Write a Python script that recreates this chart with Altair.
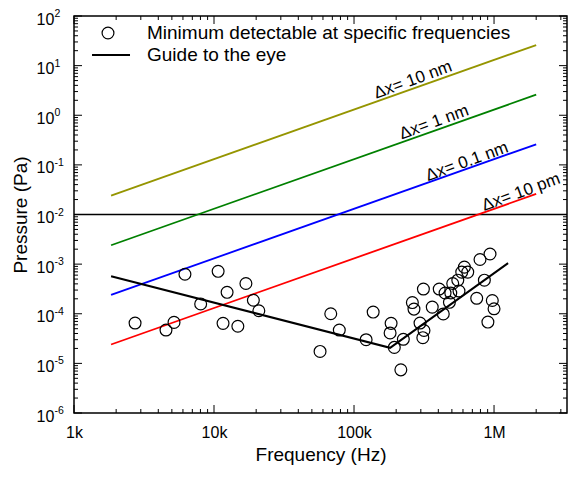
import altair as alt
import pandas as pd

FONT = "Liberation Sans"

# ---- data ----
freq_hz = [2730, 4540, 5180, 6200, 8030, 10700, 11600, 12400, 14800, 16900, 19100, 20900,
           57200, 68200, 78500, 122000, 137000, 184000, 181000, 194000, 216000, 225000,
           261000, 268000, 296000, 310000, 316000, 313000, 362000, 406000, 434000, 447000,
           480000, 491000, 507000, 551000, 562000, 588000, 614000, 649000, 752000, 794000,
           853000, 936000, 972000, 1000000, 904000]
pressure_pa = [6.5e-5, 4.7e-5, 6.7e-5, 6.25e-4, 1.58e-4, 7.16e-4, 6.4e-5, 2.7e-4, 5.6e-5, 4.07e-4, 1.87e-4, 1.15e-4,
               1.74e-5, 1.0e-4, 4.7e-5, 3.0e-5, 1.08e-4, 6.4e-5, 4.1e-5, 2.1e-5, 7.4e-6, 3.06e-5,
               1.68e-4, 1.24e-4, 6.5e-5, 3.3e-5, 4.6e-5, 3.15e-4, 1.36e-4, 3.15e-4, 9.9e-5, 2.62e-4,
               1.7e-4, 2.62e-4, 4.07e-4, 4.75e-4, 2.87e-4, 6.9e-4, 8.7e-4, 6.9e-4, 2.05e-4, 1.24e-3,
               4.75e-4, 1.6e-3, 1.85e-4, 1.26e-4, 6.8e-5]

guide_f = [1840, 181000, 1260000]
guide_p = [5.7e-4, 2.06e-5, 1.05e-3]

dx_labels = ["10 nm", "1 nm", "0.1 nm", "10 pm"]
dx_colors = ["#959500", "#008000", "#0000FF", "#FF0000"]
dx_f = [1840, 2.0e6]
dx_p_start = [0.024, 0.0024, 2.4e-4, 2.4e-5]
dx_p_end = [26.0, 2.6, 0.26, 0.026]

ann_text = ["\u0394x= 10 nm", "\u0394x= 1 nm", "\u0394x= 0.1 nm", "\u0394x= 10 pm"]
ann_f = [264000, 373000, 641000, 1560000]
ann_p = [5.13, 0.72, 0.116, 0.028]

threshold_p = [0.01]

legend_labels = ["Minimum detectable at specific frequencies", "Guide to the eye"]

x_major = [1e3, 1e4, 1e5, 1e6]
x_labels = ["1k", "10k", "100k", "1M"]
x_minor = [m * 10 ** e for e in (3, 4, 5) for m in range(2, 10)] + [2e6, 3e6]
y_major = [1e-6, 1e-5, 1e-4, 1e-3, 1e-2, 1e-1, 1e0, 1e1, 1e2]
y_exp_labels = ["-6", "-5", "-4", "-3", "-2", "-1", "0", "1", "2"]
y_minor = [m * 10.0 ** e for e in range(-6, 2) for m in range(2, 10)]

W, H = 493, 397
MAJ, MIN = 8, 4

xscale = alt.Scale(type="log", domain=[1000, 3.32e6], nice=False)
yscale = alt.Scale(type="log", domain=[1e-6, 1e2], nice=False)

# ---- tables ----
pts = pd.DataFrame({"f": freq_hz, "p": pressure_pa, "s": legend_labels[0]})
guide = pd.DataFrame({"f": guide_f, "p": guide_p})
rows = []
for lab, p0, p1 in zip(dx_labels, dx_p_start, dx_p_end):
    rows.append({"f": dx_f[0], "p": p0, "lab": lab})
    rows.append({"f": dx_f[1], "p": p1, "lab": lab})
dx = pd.DataFrame(rows)
ann = pd.DataFrame({"f": ann_f, "p": ann_p, "t": ann_text})
thr = pd.DataFrame({"p": threshold_p})

xlab_expr = "[" + ",".join("'%s'" % s for s in x_labels) + "][round(log(datum.value)/LN10)-3]"
yexp_expr = "[" + ",".join("'%s'" % s for s in y_exp_labels) + "][round(log(datum.value)/LN10)+6]"

X = lambda **kw: alt.X("f:Q", scale=xscale, **kw)
Y = lambda **kw: alt.Y("p:Q", scale=yscale, **kw)

thr_layer = alt.Chart(thr).mark_rule(color="black", strokeWidth=1.5).encode(y=Y(axis=None))

dx_layer = alt.Chart(dx).mark_line(strokeWidth=1.8).encode(
    x=X(axis=None), y=Y(axis=None),
    color=alt.Color("lab:N", scale=alt.Scale(domain=dx_labels, range=dx_colors), legend=None),
    detail="lab:N",
)

guide_layer = alt.Chart(guide).mark_line(color="black", strokeWidth=2).encode(x=X(axis=None), y=Y(axis=None))

ann_layer = alt.Chart(ann).mark_text(angle=340, fontSize=17, font=FONT, align="center",
                                     baseline="middle", color="black").encode(
    x=X(axis=None), y=Y(axis=None), text="t:N")

pts_layer = alt.Chart(pts).mark_point(filled=False, color="black", size=140, opacity=1).encode(
    x=X(axis=alt.Axis(orient="bottom", values=x_major, labelExpr=xlab_expr, title="Frequency (Hz)",
                      labelFontSize=16, titleFontSize=19, labelPadding=11, titlePadding=5,
                      labelFlush=False, tickSize=0)),
    y=Y(axis=alt.Axis(orient="left", values=y_major, labelExpr="'10'", title="Pressure (Pa)",
                      labelFontSize=16, titleFontSize=19, labelAlign="left", labelBaseline="middle",
                      labelPadding=38, labelOffset=3, titlePadding=6, tickSize=0, labelFlush=False)),
    shape=alt.Shape("s:N", scale=alt.Scale(domain=legend_labels, range=["circle", "M-2.7,0H3.72"]),
                    legend=alt.Legend(orient="none", legendX=24.5, legendY=7.5, title=None,
                                      labelFontSize=19, labelFont=FONT, labelLimit=600,
                                      labelOffset=29.5, rowPadding=2, padding=0,
                                      symbolSize=140, symbolStrokeColor="black",
                                      symbolFillColor="transparent")),
    strokeWidth=alt.StrokeWidth("s:N", scale=alt.Scale(domain=legend_labels, range=[1.2, 2]), legend=None),
)


def xticks(vals, length):
    d = pd.DataFrame({"f": vals})
    b = alt.Chart(d).mark_rule(color="black", strokeWidth=1).encode(
        x=X(axis=None), y=alt.value(H), y2=alt.value(H - length))
    t = alt.Chart(d).mark_rule(color="black", strokeWidth=1).encode(
        x=X(axis=None), y=alt.value(0), y2=alt.value(length))
    return [b, t]


def yticks(vals, length, axis=None):
    d = pd.DataFrame({"p": vals})
    l = alt.Chart(d).mark_rule(color="black", strokeWidth=1).encode(
        y=Y(axis=axis), x=alt.value(0), x2=alt.value(length))
    r = alt.Chart(d).mark_rule(color="black", strokeWidth=1).encode(
        y=Y(axis=None), x=alt.value(W), x2=alt.value(W - length))
    return [l, r]


exp_axis = alt.Axis(orient="left", values=y_major, labelExpr=yexp_expr, title=None,
                    labelFontSize=10.5, labelAlign="left", labelBaseline="middle",
                    labelPadding=20, labelOffset=-2.5, tickSize=0, labelFlush=False)

layers = ([thr_layer, dx_layer, guide_layer, ann_layer, pts_layer]
          + xticks(x_major, MAJ) + xticks(x_minor, MIN)
          + yticks(y_major, MAJ, exp_axis) + yticks(y_minor, MIN))

chart = alt.layer(*layers).resolve_axis(x="independent", y="independent").properties(
    width=W, height=H, autosize=alt.AutoSizeParams(type="none"),
    padding={"left": 66, "top": 8, "right": 1, "bottom": 56},
).configure(font=FONT).configure_view(stroke="black", strokeWidth=1.5).configure_axis(
    domain=False, ticks=False, grid=False, labelColor="black", titleColor="black",
    titleFontWeight="normal", labelFont=FONT, titleFont=FONT,
).configure_legend(labelColor="black")

chart.save("out.html", embed_options={"renderer": "svg", "actions": False})
